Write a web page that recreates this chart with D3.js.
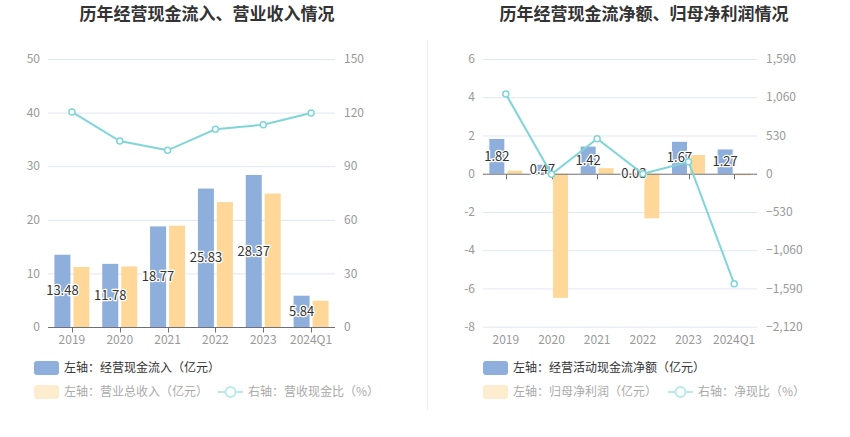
<!DOCTYPE html>
<html>
<head>
<meta charset="utf-8">
<script src="https://cdn.jsdelivr.net/npm/d3@7"></script>
<style>
  body { margin: 0; background: #fff; }
  svg { font-family: "Noto Sans CJK SC", "Noto Sans", sans-serif; }
</style>
</head>
<body>
<div class="chart"></div>
<script>
const W = 850, H = 437;

// 数据
const years = ["2019", "2020", "2021", "2022", "2023", "2024Q1"];
// 左图
const cashIn = [13.48, 11.78, 18.77, 25.83, 28.37, 5.84];       // 经营现金流入(亿元)
const revenue = [11.2, 11.3, 18.9, 23.3, 24.9, 4.9];            // 营业总收入(亿元)
const cashRatio = [120.4, 104.1, 98.9, 110.7, 113.2, 119.8];    // 营收现金比(%)
const leftTicks = [0, 10, 20, 30, 40, 50];
const rightTicks = [0, 30, 60, 90, 120, 150];
// 右图
const netCash = [1.82, 0.47, 1.42, 0.03, 1.67, 1.27];           // 经营活动现金流净额(亿元)
const netProfit = [0.16, -6.49, 0.29, -2.33, 0.98, -0.08];      // 归母净利润(亿元)
const netRatio = [1104, -7, 485, -1, 165, -1524];               // 净现比(%)
const leftTicks2 = [-8, -6, -4, -2, 0, 2, 4, 6];
const rightTicks2 = [-2120, -1590, -1060, -530, 0, 530, 1060, 1590];

const BLUE = "#8eaedc", YELLOW = "#ffd899", LINE = "#80d5d8";

const svg = d3.select(".chart").append("svg")
    .attr("width", W).attr("height", H);

// 中间分隔线
svg.append("line")
    .attr("x1", 427.5).attr("x2", 427.5).attr("y1", 40).attr("y2", 410)
    .attr("stroke", "#eeeeee");

function panel(cfg) {
    const g = svg.append("g");
    const x = d3.scaleBand().domain(years).range([cfg.x0, cfg.x1]);
    const yL = d3.scaleLinear().domain(cfg.domL).range([cfg.yBottom, cfg.yTop]);
    const yR = d3.scaleLinear().domain(cfg.domR).range([cfg.yBottom, cfg.yTop]);

    // 标题
    g.append("text")
        .attr("x", cfg.titleX).attr("y", 20)
        .attr("text-anchor", "middle")
        .attr("font-size", 17).attr("font-weight", "bold").attr("fill", "#333")
        .text(cfg.title);

    // 网格
    g.selectAll("line.grid").data(cfg.ticksL.filter(d => d !== 0))
        .join("line").attr("class", "grid")
        .attr("x1", cfg.x0).attr("x2", cfg.x1)
        .attr("y1", d => yL(d) + 0.5).attr("y2", d => yL(d) + 0.5)
        .attr("stroke", "#e0e6f1");

    // 左轴标签
    g.selectAll("text.yl").data(cfg.ticksL).join("text").attr("class", "yl")
        .attr("x", cfg.x0 - 8).attr("y", d => yL(d)).attr("dy", "0.35em")
        .attr("text-anchor", "end").attr("font-size", 12).attr("fill", "#999")
        .text(d => d);
    // 右轴标签
    g.selectAll("text.yr").data(cfg.ticksR).join("text").attr("class", "yr")
        .attr("x", cfg.x1 + 9).attr("y", d => yR(d)).attr("dy", "0.35em")
        .attr("text-anchor", "start").attr("font-size", 12).attr("fill", "#999")
        .text(d => d3.format(",")(d));

    const bw = cfg.barW, gap = 3;
    const cx = d => x(d) + x.bandwidth() / 2;

    // 柱
    g.selectAll("rect.a").data(cfg.barA).join("rect").attr("class", "a")
        .attr("x", (d, i) => cx(years[i]) - gap / 2 - bw)
        .attr("y", d => yL(Math.max(0, d)))
        .attr("width", bw)
        .attr("height", d => Math.abs(yL(d) - yL(0)))
        .attr("fill", BLUE);
    g.selectAll("rect.b").data(cfg.barB).join("rect").attr("class", "b")
        .attr("x", (d, i) => cx(years[i]) + gap / 2)
        .attr("y", d => yL(Math.max(0, d)))
        .attr("width", bw)
        .attr("height", d => Math.abs(yL(d) - yL(0)))
        .attr("fill", YELLOW);

    // x轴线
    const y0 = yL(0) + 0.5;
    g.append("line").attr("x1", cfg.x0).attr("x2", cfg.x1)
        .attr("y1", y0).attr("y2", y0).attr("stroke", "#6e7079");
    g.selectAll("line.tick").data(years).join("line").attr("class", "tick")
        .attr("x1", d => Math.round(cx(d)) + 0.5).attr("x2", d => Math.round(cx(d)) + 0.5)
        .attr("y1", y0).attr("y2", y0 + 5).attr("stroke", "#6e7079");
    g.selectAll("text.xl").data(years).join("text").attr("class", "xl")
        .attr("x", cx).attr("y", cfg.yBottom + 17)
        .attr("text-anchor", "middle").attr("font-size", 12).attr("fill", "#999")
        .text(d => d);

    // 数值标签
    g.selectAll("text.val").data(cfg.barA).join("text").attr("class", "val")
        .attr("x", (d, i) => cx(years[i]) - gap / 2 - bw / 2)
        .attr("y", d => yL(d / 2)).attr("dy", "0.35em")
        .attr("text-anchor", "middle").attr("font-size", 13).attr("fill", "#333")
        .attr("stroke", "#fff").attr("stroke-width", 2.5).attr("paint-order", "stroke")
        .attr("stroke-linejoin", "round")
        .text(d => d.toFixed(2));

    // 折线
    const line = d3.line().x((d, i) => cx(years[i])).y(d => yR(d));
    g.append("path").datum(cfg.lineData)
        .attr("d", line).attr("fill", "none")
        .attr("stroke", LINE).attr("stroke-width", 2);
    g.selectAll("circle.pt").data(cfg.lineData).join("circle").attr("class", "pt")
        .attr("cx", (d, i) => cx(years[i])).attr("cy", d => yR(d))
        .attr("r", 3).attr("fill", "#fff")
        .attr("stroke", LINE).attr("stroke-width", 1.5);

    // 图例
    const lg = g.append("g").attr("font-size", 12);
    lg.append("rect").attr("x", cfg.lgX).attr("y", 361).attr("width", 25).attr("height", 14)
        .attr("rx", 3).attr("fill", BLUE);
    lg.append("text").attr("x", cfg.lgX + 30).attr("y", 368).attr("dy", "0.35em")
        .attr("fill", "#333").text(cfg.legend[0]);
    lg.append("rect").attr("x", cfg.lgX).attr("y", 385).attr("width", 25).attr("height", 14)
        .attr("rx", 3).attr("fill", "#fdeccd");
    lg.append("text").attr("x", cfg.lgX + 30).attr("y", 392).attr("dy", "0.35em")
        .attr("fill", "#aaa").text(cfg.legend[1]);
    lg.append("line").attr("x1", cfg.lgLineX).attr("x2", cfg.lgLineX + 25)
        .attr("y1", 392).attr("y2", 392).attr("stroke", "#b9e9ea").attr("stroke-width", 2);
    lg.append("circle").attr("cx", cfg.lgLineX + 12.5).attr("cy", 392).attr("r", 5)
        .attr("fill", "#fff").attr("stroke", "#b9e9ea").attr("stroke-width", 2);
    lg.append("text").attr("x", cfg.lgLineX + 30).attr("y", 392).attr("dy", "0.35em")
        .attr("fill", "#aaa").text(cfg.legend[2]);
}

panel({
    title: "历年经营现金流入、营业收入情况", titleX: 207,
    x0: 48, x1: 335, yTop: 59, yBottom: 327,
    domL: [0, 50], domR: [0, 150], ticksL: leftTicks, ticksR: rightTicks,
    barA: cashIn, barB: revenue, lineData: cashRatio, barW: 16,
    lgX: 34, lgLineX: 218,
    legend: ["左轴：经营现金流入（亿元）", "左轴：营业总收入（亿元）", "右轴：营收现金比（%）"]
});

panel({
    title: "历年经营现金流净额、归母净利润情况", titleX: 644,
    x0: 483, x1: 757, yTop: 59, yBottom: 326.7,
    domL: [-8, 6], domR: [-2120, 1590], ticksL: leftTicks2, ticksR: rightTicks2,
    barA: netCash, barB: netProfit, lineData: netRatio, barW: 15,
    lgX: 483, lgLineX: 668,
    legend: ["左轴：经营活动现金流净额（亿元）", "左轴：归母净利润（亿元）", "右轴：净现比（%）"]
});
</script>
</body>
</html>
